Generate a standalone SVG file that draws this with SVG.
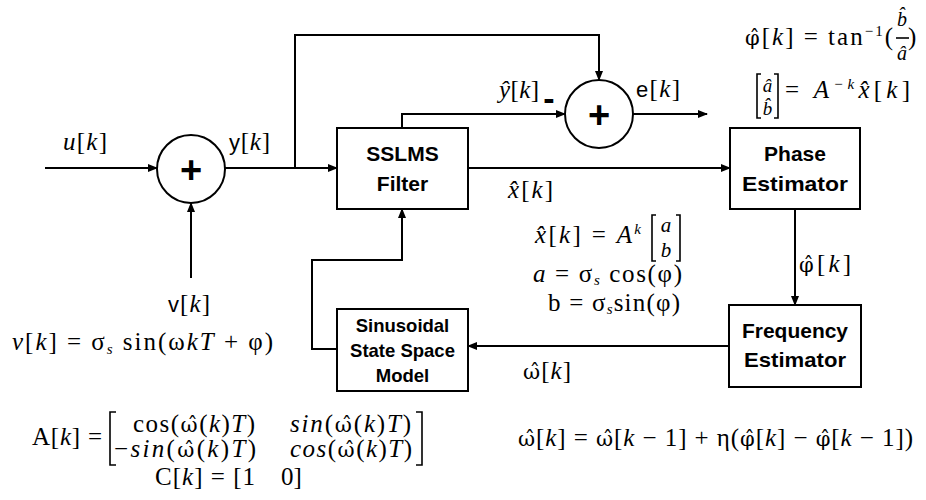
<svg xmlns="http://www.w3.org/2000/svg" width="926" height="500" viewBox="0 0 926 500">
<defs>
<marker id="ah" markerWidth="10" markerHeight="8" refX="9" refY="4" orient="auto" markerUnits="userSpaceOnUse">
<path d="M0,0 L10,4 L0,8 Z" fill="#000"/>
</marker>
<style>
.ln{fill:none;stroke:#000;stroke-width:2}
.box{fill:#fff;stroke:#000;stroke-width:2}
.br{fill:none;stroke:#000;stroke-width:1.6}
.bl{font-family:"Liberation Sans",Arial,sans-serif;font-weight:bold;font-size:21px;text-anchor:middle;fill:#000}
.sm{font-size:18.5px}
.m{font-family:"Liberation Serif","Times New Roman",serif;font-size:25px;fill:#000}
.c{text-anchor:middle}
.i{font-style:italic}
.g{font-family:"DejaVu Serif",serif;font-size:21px;font-style:normal}
.s{font-family:"Liberation Sans",Arial,sans-serif;font-size:22px}
.sub{font-size:15px;font-style:italic}
.sup{font-size:15px}
.fr{font-size:20px}
.mx{font-size:21px}
.mt{font-size:19px}
.pl{font-family:"Liberation Sans",Arial,sans-serif;font-weight:bold;font-size:38px;text-anchor:middle}
</style>
</defs>
<rect width="926" height="500" fill="#fff"/>

<g id="connectors">
<path class="ln" d="M45,168 H157" marker-end="url(#ah)"/>
<path class="ln" d="M225,168 H337" marker-end="url(#ah)"/>
<path class="ln" d="M295,168 V35 H599 V80" marker-end="url(#ah)"/>
<path class="ln" d="M402,128 V114 H565" marker-end="url(#ah)"/>
<path class="ln" d="M633,114 H707" marker-end="url(#ah)"/>
<path class="ln" d="M468,168 H730" marker-end="url(#ah)"/>
<path class="ln" d="M795,209 V305" marker-end="url(#ah)"/>
<path class="ln" d="M729,346 H468" marker-end="url(#ah)"/>
<path class="ln" d="M337,349 H312 V260 H402 V209" marker-end="url(#ah)"/>
<path class="ln" d="M191,278 V203" marker-end="url(#ah)"/>
</g>

<g id="sum1">
<circle class="box" cx="191" cy="169" r="34"/>
<text class="pl" x="191" y="183">+</text>
</g>
<g id="sum2">
<circle class="box" cx="599" cy="114" r="34"/>
<text class="pl" x="599" y="128">+</text>
</g>
<g id="sslms">
<rect class="box" x="337" y="128" width="131" height="81"/>
<text class="bl" x="402.5" y="161">SSLMS</text>
<text class="bl" x="402.5" y="191">Filter</text>
</g>
<g id="phase">
<rect class="box" x="730" y="128" width="130" height="81"/>
<text class="bl" x="795" y="161">Phase</text>
<text class="bl" x="795" y="191" textLength="106" lengthAdjust="spacingAndGlyphs">Estimator</text>
</g>
<g id="frequency">
<rect class="box" x="729" y="305" width="132" height="82"/>
<text class="bl" x="795" y="338" textLength="106" lengthAdjust="spacingAndGlyphs">Frequency</text>
<text class="bl" x="795" y="367" textLength="102" lengthAdjust="spacingAndGlyphs">Estimator</text>
</g>
<g id="sinusoidal">
<rect class="box" x="337" y="309" width="131" height="82"/>
<text class="bl sm" x="402.5" y="332">Sinusoidal</text>
<text class="bl sm" x="402.5" y="357">State Space</text>
<text class="bl sm" x="402.5" y="382">Model</text>
</g>

<g id="labels">
<text class="m" x="63" y="150" textLength="44"><tspan class="i">u</tspan>[<tspan class="i">k</tspan>]</text>
<text class="m" x="229" y="150" textLength="41"><tspan class="s">y</tspan>[<tspan class="i">k</tspan>]</text>
<text class="m" x="499" y="98" textLength="40"><tspan class="i">ŷ</tspan>[<tspan class="i">k</tspan>]</text>
<text class="bl" x="549" y="110" style="font-size:34px">-</text>
<text class="m" x="636" y="97" textLength="44"><tspan class="s">e</tspan>[<tspan class="i">k</tspan>]</text>
<text class="m" x="508" y="198" textLength="45"><tspan class="i">x̂</tspan>[<tspan class="i">k</tspan>]</text>
<text class="m" x="799" y="272" textLength="52"><tspan class="g">φ̂</tspan>[<tspan class="i">k</tspan>]</text>
<text class="m" x="523" y="379" textLength="48"><tspan class="g">ω̂</tspan>[<tspan class="i">k</tspan>]</text>
<text class="m" x="168" y="312" textLength="42"><tspan class="s">v</tspan>[<tspan class="i">k</tspan>]</text>
</g>

<g id="equations">
<text class="m" x="745" y="45" textLength="148"><tspan class="g">φ̂</tspan>[<tspan class="i">k</tspan>] = tan<tspan class="sup" dy="-9">−1</tspan><tspan dy="9">(</tspan></text>
<text class="m i c fr" x="902" y="26">b̂</text>
<path class="br" d="M896,38 H909"/>
<text class="m i c fr" x="902" y="60">â</text>
<text class="m" x="908" y="45">)</text>

<path class="br" d="M761,74 H757 V118 H761 M774,74 H778 V118 H774"/>
<text class="m i c mt" x="767.5" y="92">â</text>
<text class="m i c mt" x="767.5" y="115">b̂</text>
<text class="m" x="785" y="98" textLength="125">= <tspan class="i">A</tspan><tspan class="sup i" dy="-9">−k</tspan><tspan class="i" dy="9">x̂</tspan>[<tspan class="i">k</tspan>]</text>

<text class="m" x="535" y="243" textLength="106"><tspan class="i">x̂</tspan>[<tspan class="i">k</tspan>] = <tspan class="i">A</tspan><tspan class="sup i" dy="-9">k</tspan></text>
<path class="br" d="M656,215 H652 V261 H656 M676,215 H680 V261 H676"/>
<text class="m i c mx" x="666" y="232">a</text>
<text class="m i c mx" x="666" y="257">b</text>
<text class="m" x="533" y="282" textLength="149"><tspan class="i">a</tspan> = σ<tspan class="sub" dy="3">s</tspan><tspan dy="-3"> cos(φ)</tspan></text>
<text class="m" x="548" y="311" textLength="132">b = σ<tspan class="sub" dy="3">s</tspan><tspan dy="-3">sin(φ)</tspan></text>

<text class="m" x="12" y="350" textLength="261"><tspan class="i">v</tspan>[<tspan class="i">k</tspan>] = σ<tspan class="sub" dy="4">s</tspan><tspan dy="-4"> sin(ω</tspan><tspan class="i">kT</tspan> + φ)</text>

<text class="m" x="32" y="445" textLength="70">A[<tspan class="i">k</tspan>] =</text>
<path class="br" d="M116,412 H110 V465 H116 M416,412 H422 V465 H416"/>
<text class="m" x="133" y="432" textLength="122">cos(<tspan class="g">ω̂</tspan>(<tspan class="i">k</tspan>)<tspan class="i">T</tspan>)</text>
<text class="m" x="290" y="432" textLength="121"><tspan class="i">sin</tspan>(<tspan class="g">ω̂</tspan>(<tspan class="i">k</tspan>)<tspan class="i">T</tspan>)</text>
<text class="m" x="114" y="457" textLength="142">−<tspan class="i">sin</tspan>(<tspan class="g">ω̂</tspan>(<tspan class="i">k</tspan>)<tspan class="i">T</tspan>)</text>
<text class="m" x="290" y="457" textLength="122"><tspan class="i">cos</tspan>(<tspan class="g">ω̂</tspan>(<tspan class="i">k</tspan>)<tspan class="i">T</tspan>)</text>
<text class="m" x="155" y="485" textLength="100">C[<tspan class="i">k</tspan>] = [1</text>
<text class="m" x="281" y="485">0]</text>

<text class="m" x="518" y="446" textLength="395"><tspan class="g">ω̂</tspan>[<tspan class="i">k</tspan>] = <tspan class="g">ω̂</tspan>[<tspan class="i">k</tspan> − 1] + η(<tspan class="g">φ̂</tspan>[<tspan class="i">k</tspan>] − <tspan class="g">φ̂</tspan>[<tspan class="i">k</tspan> − 1])</text>
</g>
</svg>
